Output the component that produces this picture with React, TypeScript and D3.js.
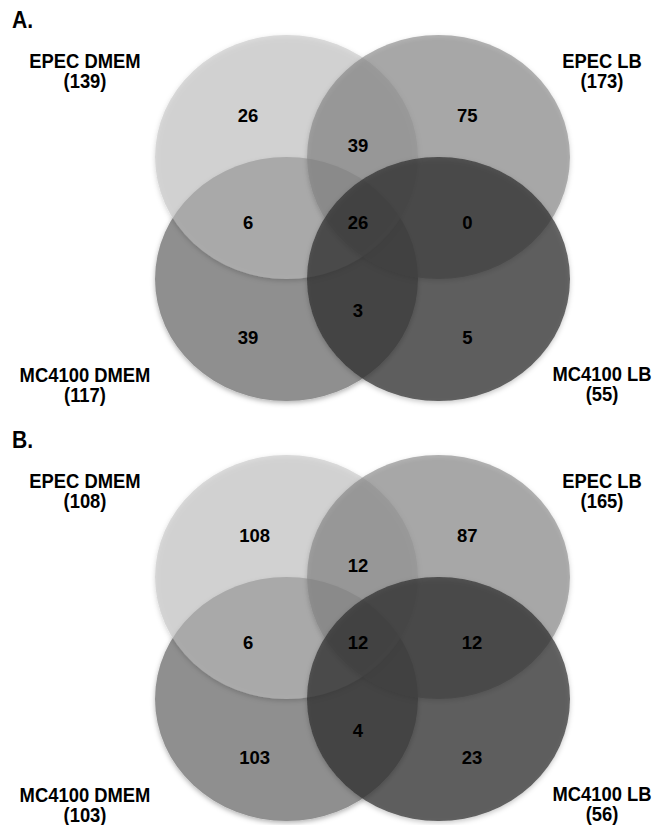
import React from "react";
import * as d3 from "d3";

const panelLabels = ["A.", "B."];
const setNames = ["EPEC DMEM", "EPEC LB", "MC4100 DMEM", "MC4100 LB"];
const setTotalsA = [139, 173, 117, 55];
const setTotalsB = [108, 165, 103, 56];
const regionKeys = [
  "EPEC DMEM only", "EPEC LB only", "EPEC DMEM & EPEC LB",
  "EPEC DMEM & MC4100 DMEM", "all four", "EPEC LB & MC4100 LB",
  "MC4100 DMEM & MC4100 LB", "MC4100 DMEM only", "MC4100 LB only",
];
const regionCountsA = [26, 75, 39, 6, 26, 0, 3, 39, 5];
const regionCountsB = [108, 87, 12, 6, 12, 12, 4, 103, 23];

// layout (unit grid: column 0/1, row 0/1)
const ellipseCols = [0, 1, 0, 1];
const ellipseRows = [0, 0, 1, 1];
// draw order and style: BL, TL, TR, BR
const drawOrder = [2, 0, 1, 3];
const ellipseFill = ["#c2c2c2", "#828282", "#8f8f8f", "#2c2c2c"];
const ellipseOpacity = [0.571, 0.6, 1, 0.7];
const regionPosA = [
  [-0.253, -0.344], [1.19, -0.344], [0.47, -0.098],
  [-0.253, 0.533], [0.47, 0.533], [1.19, 0.533],
  [0.47, 1.254], [-0.253, 1.475], [1.19, 1.475],
];
const regionPosB = [
  [-0.21, -0.344], [1.19, -0.344], [0.47, -0.098],
  [-0.253, 0.533], [0.47, 0.533], [1.22, 0.533],
  [0.47, 1.254], [-0.21, 1.475], [1.22, 1.475],
];
const panelOffsets = [0, 420];

const W = 655;
const H = 825;

function Panel({ idx }: { idx: number }) {
  const off = panelOffsets[idx];
  const totals = idx === 0 ? setTotalsA : setTotalsB;
  const counts = idx === 0 ? regionCountsA : regionCountsB;
  const pos = idx === 0 ? regionPosA : regionPosB;
  const x = d3.scaleLinear().domain([0, 1]).range([286.5, 438.5]);
  const y = d3.scaleLinear().domain([0, 1]).range([157 + off, 279 + off]);
  const rx = x(0.865) - x(0);
  const ry = y(1) - y(0);
  const labelX = [85, 602, 85, 602];
  const labelY = [68 + off, 68 + off, 382 + off, 381 + off];
  const font = "'Liberation Sans', Arial, sans-serif";
  return (
    <g>
      <text
        transform={`translate(12,${28 + off}) scale(0.92,1)`}
        fontFamily={font}
        fontWeight="bold"
        fontSize={23}
        fill="#000"
      >
        {panelLabels[idx]}
      </text>
      {drawOrder.map((k) => (
        <ellipse
          key={k}
          cx={x(ellipseCols[k])}
          cy={y(ellipseRows[k])}
          rx={rx}
          ry={ry}
          fill={ellipseFill[k]}
          fillOpacity={ellipseOpacity[k]}
          filter="url(#sh)"
        />
      ))}
      {counts.map((c, i) => (
        <text
          key={regionKeys[i]}
          x={x(pos[i][0])}
          y={y(pos[i][1])}
          dy="0.36em"
          textAnchor="middle"
          fontFamily={font}
          fontWeight="bold"
          fontSize={18.5}
          fill="#000"
        >
          {c}
        </text>
      ))}
      {setNames.map((n, i) => (
        <g key={n} transform={`translate(${labelX[i]},${labelY[i]}) scale(0.92,1)`}>
          <text
            textAnchor="middle"
            fontFamily={font}
            fontWeight="bold"
            fontSize={20}
            fill="#000"
          >
            {n}
          </text>
          <text
            y={20}
            textAnchor="middle"
            fontFamily={font}
            fontWeight="bold"
            fontSize={20}
            fill="#000"
          >
            {`(${totals[i]})`}
          </text>
        </g>
      ))}
    </g>
  );
}

export default function App() {
  return (
    <svg
      width={W}
      height={H}
      style={{ position: "absolute", left: 0, top: 0, background: "#fff" }}
    >
      <defs>
        <filter id="sh" x="-10%" y="-10%" width="120%" height="125%">
          <feDropShadow dx="0" dy="2" stdDeviation="2.5" floodColor="#000" floodOpacity="0.3" />
        </filter>
      </defs>
      <rect width={W} height={H} fill="#fff" />
      {panelLabels.map((p, i) => (
        <Panel key={p} idx={i} />
      ))}
    </svg>
  );
}
